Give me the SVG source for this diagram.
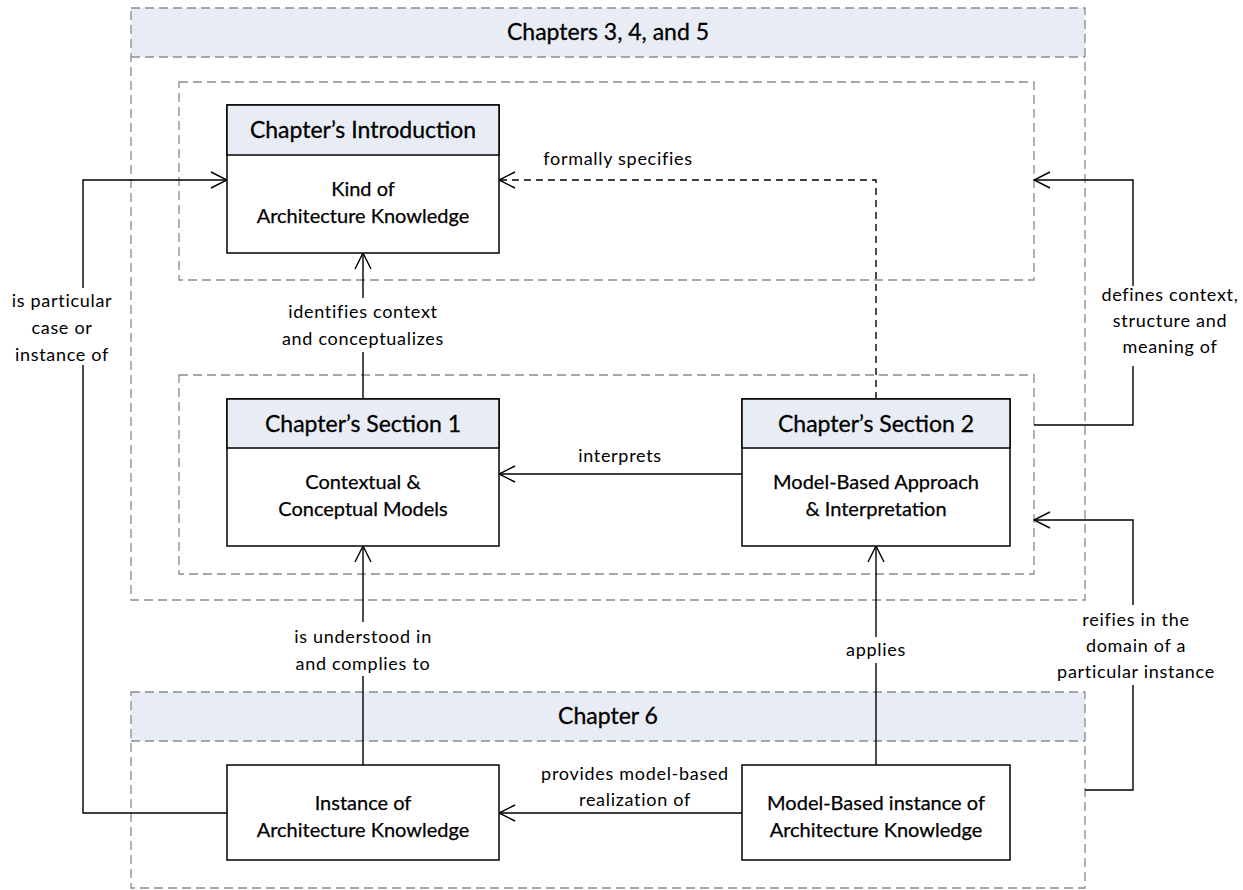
<svg xmlns="http://www.w3.org/2000/svg" width="1243" height="890" viewBox="0 0 1243 890">
  <style>
    .frame { fill: none; stroke: #8a8a8a; stroke-width: 1.3; stroke-dasharray: 9 5; }
    .band { fill: #e8edf5; }
    .box { fill: #ffffff; stroke: #000; stroke-width: 1.5; }
    .head { fill: #e8edf5; stroke: #000; stroke-width: 1.5; }
    .title { font-family: Lato, "Liberation Sans", sans-serif; font-size: 23px; fill: #000; stroke: #000; stroke-width: 0.3; text-anchor: middle; }
    .body { font-family: Lato, "Liberation Sans", sans-serif; font-size: 20px; fill: #000; stroke: #000; stroke-width: 0.25; text-anchor: middle; }
    .lbl { font-family: Lato, "Liberation Sans", sans-serif; font-size: 18px; letter-spacing: 0.7px; fill: #000; text-anchor: middle; }
    .edge { fill: none; stroke: #000; stroke-width: 1.4; }
    .dashed { stroke-dasharray: 7 5; }
    .gap { fill: #ffffff; }
  </style>
  <defs>
    <marker id="open" viewBox="0 0 20 20" refX="19" refY="10" markerWidth="20" markerHeight="20" markerUnits="userSpaceOnUse" orient="auto">
      <path d="M3,2 L19,10 L3,18" fill="none" stroke="#000" stroke-width="1.4"/>
    </marker>
  </defs>

  <rect width="1243" height="890" fill="#ffffff"/>

  <!-- Chapters 3-5 container -->
  <g id="chapters-3-4-5">
    <rect class="band" x="131" y="8" width="954" height="49"/>
    <rect class="frame" x="131" y="8" width="954" height="592"/>
    <line class="frame" x1="131" y1="57" x2="1085" y2="57"/>
    <text class="title" x="608" y="40">Chapters 3, 4, and 5</text>
  </g>

  <g id="group-intro">
    <rect class="frame" x="179" y="82" width="855" height="198"/>
  </g>
  <g id="group-sections">
    <rect class="frame" x="179" y="375" width="855" height="199"/>
  </g>

  <!-- Chapter 6 container -->
  <g id="chapter-6">
    <rect class="band" x="131" y="692" width="954" height="49"/>
    <rect class="frame" x="131" y="692" width="954" height="196"/>
    <line class="frame" x1="131" y1="741" x2="1085" y2="741"/>
    <text class="title" x="608" y="724">Chapter 6</text>
  </g>

  <!-- connectors -->
  <g id="connectors">
    <polyline class="edge" points="227,813 83,813 83,180 227,180" marker-end="url(#open)"/>
    <polyline class="edge dashed" points="876,399 876,180 499,180" marker-end="url(#open)"/>
    <line class="edge" x1="363" y1="399" x2="363" y2="253" marker-end="url(#open)"/>
    <line class="edge" x1="742" y1="474" x2="499" y2="474" marker-end="url(#open)"/>
    <polyline class="edge" points="1034,425 1133,425 1133,180 1034,180" marker-end="url(#open)"/>
    <polyline class="edge" points="1085,790 1133,790 1133,520 1034,520" marker-end="url(#open)"/>
    <line class="edge" x1="363" y1="765" x2="363" y2="546" marker-end="url(#open)"/>
    <line class="edge" x1="876" y1="765" x2="876" y2="546" marker-end="url(#open)"/>
    <line class="edge" x1="742" y1="813" x2="499" y2="813" marker-end="url(#open)"/>

    <!-- breaks in the lines behind the labels -->
    <rect class="gap" x="8" y="288" width="120" height="77"/>
    <rect class="gap" x="270" y="298" width="186" height="54"/>
    <rect class="gap" x="1090" y="286" width="152" height="80"/>
    <rect class="gap" x="1058" y="605" width="160" height="80"/>
    <rect class="gap" x="270" y="622" width="186" height="54"/>
    <rect class="gap" x="840" y="637" width="72" height="26"/>

    <text class="lbl" x="62" y="307">is particular</text>
    <text class="lbl" x="62" y="334">case or</text>
    <text class="lbl" x="62" y="361">instance of</text>
    <text class="lbl" x="618" y="165">formally specifies</text>
    <text class="lbl" x="363" y="318">identifies context</text>
    <text class="lbl" x="363" y="345">and conceptualizes</text>
    <text class="lbl" x="620" y="462">interprets</text>
    <text class="lbl" x="1170" y="301">defines context,</text>
    <text class="lbl" x="1170" y="327">structure and</text>
    <text class="lbl" x="1170" y="353">meaning of</text>
    <text class="lbl" x="1136" y="626">reifies in the</text>
    <text class="lbl" x="1136" y="652">domain of a</text>
    <text class="lbl" x="1136" y="678">particular instance</text>
    <text class="lbl" x="363" y="643">is understood in</text>
    <text class="lbl" x="363" y="670">and complies to</text>
    <text class="lbl" x="876" y="656">applies</text>
    <text class="lbl" x="635" y="780">provides model-based</text>
    <text class="lbl" x="635" y="806">realization of</text>
  </g>

  <!-- nodes -->
  <g id="intro">
    <rect class="box" x="227" y="105" width="272" height="148"/>
    <rect class="head" x="227" y="105" width="272" height="50"/>
    <text class="title" x="363" y="138">Chapter’s Introduction</text>
    <text class="body" x="363" y="196">Kind of</text>
    <text class="body" x="363" y="223">Architecture Knowledge</text>
  </g>

  <g id="section-1">
    <rect class="box" x="227" y="399" width="272" height="147"/>
    <rect class="head" x="227" y="399" width="272" height="49"/>
    <text class="title" x="363" y="432">Chapter’s Section 1</text>
    <text class="body" x="363" y="489">Contextual &amp;</text>
    <text class="body" x="363" y="516">Conceptual Models</text>
  </g>

  <g id="section-2">
    <rect class="box" x="742" y="399" width="268" height="147"/>
    <rect class="head" x="742" y="399" width="268" height="49"/>
    <text class="title" x="876" y="432">Chapter’s Section 2</text>
    <text class="body" x="876" y="489">Model-Based Approach</text>
    <text class="body" x="876" y="516">&amp; Interpretation</text>
  </g>

  <g id="instance">
    <rect class="box" x="227" y="765" width="272" height="95"/>
    <text class="body" x="363" y="810">Instance of</text>
    <text class="body" x="363" y="837">Architecture Knowledge</text>
  </g>

  <g id="model-based-instance">
    <rect class="box" x="742" y="765" width="268" height="95"/>
    <text class="body" x="876" y="810">Model-Based instance of</text>
    <text class="body" x="876" y="837">Architecture Knowledge</text>
  </g>
</svg>
